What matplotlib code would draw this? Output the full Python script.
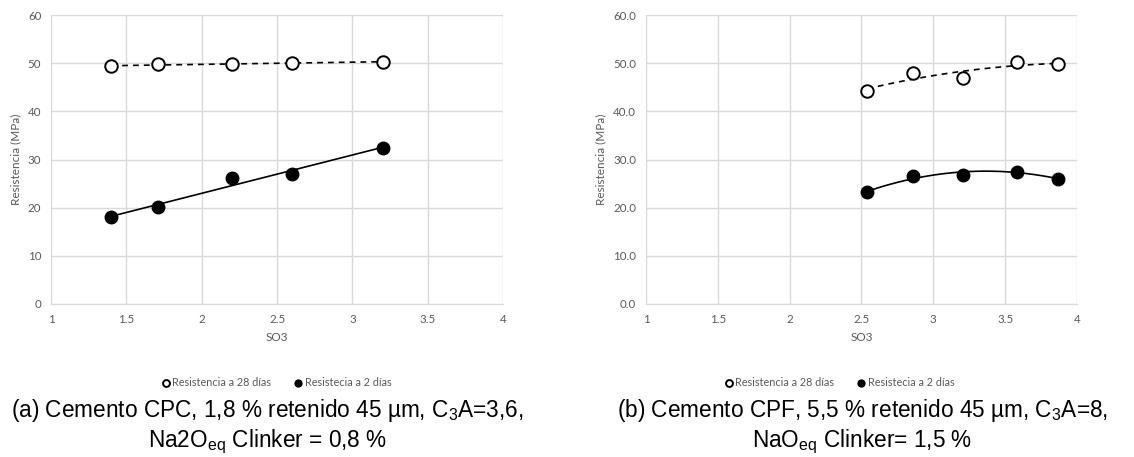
import numpy as np
import matplotlib as mpl
mpl.use('Agg')
import matplotlib.pyplot as plt

plt.rcParams['mathtext.fontset'] = 'custom'
plt.rcParams['mathtext.rm'] = 'Liberation Sans'
plt.rcParams['mathtext.it'] = 'Liberation Sans:italic'

# datos panel (a)
so3_a = [1.4, 1.71, 2.2, 2.6, 3.2]
r28_a = [49.4, 49.8, 49.8, 50.1, 50.3]
r2_a = [18.0, 20.2, 26.1, 27.1, 32.4]

# datos panel (b)
so3_b = [2.54, 2.86, 3.21, 3.58, 3.87]
r28_b = [44.3, 48.0, 46.9, 50.3, 49.8]
r2_b = [23.2, 26.6, 26.9, 27.5, 26.0]

x_ticks = [1, 1.5, 2, 2.5, 3, 3.5, 4]
x_labels = ['1', '1.5', '2', '2.5', '3', '3.5', '4']
y_ticks = [0, 10, 20, 30, 40, 50, 60]

legend_28 = 'Resistencia a 28 días'
legend_2 = 'Resistecia a 2 días'

captions = [
    ['(a) Cemento CPC, 1,8 % retenido 45 µm, C$\\mathregular{_3}$A=3,6,',
     'Na2O$\\mathregular{_{eq}}$ Clinker = 0,8 %'],
    ['(b) Cemento CPF, 5,5 % retenido 45 µm, C$\\mathregular{_3}$A=8,',
     'NaO$\\mathregular{_{eq}}$ Clinker= 1,5 %'],
]

grey = '#595959'
font = 'Lato'

fig = plt.figure(figsize=(11.34, 4.57), dpi=100)
ax1 = fig.add_axes([0.045, 0.3348, 0.3986, 0.632])
ax2 = fig.add_axes([0.5697, 0.3348, 0.38, 0.632])


def trend(ax, x, y, deg, ls):
    c = np.polyfit(x, y, deg)
    xs = np.linspace(min(x), max(x), 100)
    ax.plot(xs, np.polyval(c, xs), color='black', lw=1.2, ls=ls, zorder=2)


def panel(ax, x, y28, y2, deg, fmt, leg_x):
    trend(ax, x, y28, deg, (0, (3.5, 3)))
    trend(ax, x, y2, deg, '-')
    ax.plot(x, y28, 'o', ms=9, mfc='white', mec='black', mew=1.4,
            ls='none', label=legend_28, zorder=3)
    ax.plot(x, y2, 'o', ms=9, mfc='black', mec='black',
            ls='none', label=legend_2, zorder=3)
    ax.set_xlim(1, 4)
    ax.set_ylim(0, 60)
    ax.set_xticks(x_ticks)
    ax.set_xticklabels(x_labels)
    ax.set_yticks(y_ticks)
    ax.set_yticklabels([fmt.format(v) for v in y_ticks])
    ax.grid(True, color='#d9d9d9', lw=1)
    ax.set_axisbelow(True)
    for s in ['top', 'right', 'left']:
        ax.spines[s].set_visible(False)
    ax.spines['bottom'].set_color('#d9d9d9')
    ax.tick_params(length=0, labelsize=8.3, labelcolor=grey, pad=7)
    for lab in ax.get_xticklabels() + ax.get_yticklabels():
        lab.set_fontfamily(font)
    ax.set_xlabel('SO3', fontsize=8.5, color=grey, family=font, labelpad=5)
    ax.set_ylabel('Resistencia (MPa)', fontsize=8.5, color=grey, family=font, labelpad=5)
    leg = ax.legend(loc='center', bbox_to_anchor=(leg_x, -0.273), ncol=2,
                    frameon=False, markerscale=0.55, handlelength=0.6,
                    handletextpad=0.3, columnspacing=2.2,
                    prop={'family': font, 'size': 7.8})
    for t in leg.get_texts():
        t.set_color(grey)


panel(ax1, so3_a, r28_a, r2_a, 1, '{:.0f}', 0.5)
panel(ax2, so3_b, r28_b, r2_b, 2, '{:.1f}', 0.45)

for cx, lines in zip([0.236, 0.7605], captions):
    fig.text(cx, 0.088, lines[0], ha='center', va='baseline',
             fontsize=16.3, family='Liberation Sans')
    fig.text(cx, 0.022, lines[1], ha='center', va='baseline',
             fontsize=16.3, family='Liberation Sans')

fig.savefig('out.png', dpi=100)
